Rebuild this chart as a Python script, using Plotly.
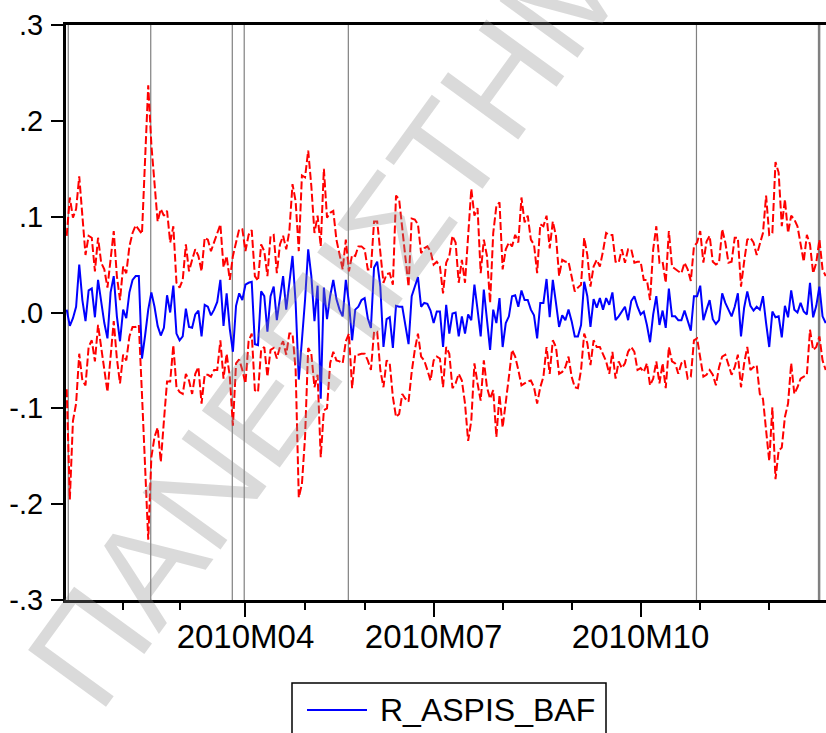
import plotly.graph_objects as go

# ---------------- data ----------------
series_name = "R_ASPIS_BAF"

blue = [
    0.003, -0.014, -0.006, 0.006, 0.050, 0.013, -0.009, 0.023, 0.025, -0.005,
    0.034, 0.011, -0.011, -0.027, 0.021, 0.038, -0.004, -0.030, 0.003, -0.006,
    0.021, 0.034, 0.038, 0.038, -0.048, -0.024, 0.003, 0.021, 0.006, -0.014,
    -0.024, -0.016, 0.018, 0.000, 0.028, -0.022, -0.029, -0.025, 0.004, -0.015,
    -0.016, -0.002, 0.002, -0.025, 0.008, 0.006, -0.003, 0.003, 0.011, 0.034,
    -0.014, 0.020, -0.017, -0.041, 0.007, 0.020, 0.013, 0.029, 0.031, 0.032,
    -0.033, -0.034, 0.022, 0.017, -0.020, 0.017, 0.027, -0.008, 0.017, 0.038,
    0.003, 0.031, 0.059, 0.010, -0.070, -0.029, 0.013, 0.066, 0.038, -0.009,
    0.028, -0.090, 0.026, -0.007, 0.017, 0.034, 0.014, 0.003, -0.004, 0.034,
    0.010, -0.029, 0.003, 0.006, 0.013, 0.015, -0.006, -0.016, 0.047, 0.053,
    0.027, -0.036, -0.007, -0.005, -0.037, 0.007, 0.006, 0.006, -0.015, -0.033,
    0.017, 0.027, 0.037, 0.006, 0.010, 0.009, 0.002, -0.011, 0.001, 0.001,
    -0.036, 0.008, -0.022, -0.001, 0.000, -0.025, -0.004, -0.022, -0.002, -0.008,
    0.029, 0.003, -0.025, 0.024, -0.011, -0.039, 0.003, -0.011, 0.015, -0.036,
    -0.011, -0.004, 0.017, 0.018, 0.006, 0.023, 0.013, 0.013, 0.003, -0.003,
    -0.027, 0.010, 0.010, 0.035, -0.005, 0.034, 0.010, -0.015, -0.003, -0.008,
    0.003, -0.009, -0.025, -0.025, -0.013, 0.032, 0.017, -0.015, 0.014, 0.005,
    0.015, 0.003, 0.015, 0.008, 0.021, -0.008, -0.004, 0.001, 0.006, -0.008,
    0.012, 0.017, 0.006, -0.002, 0.001, -0.013, -0.031, -0.002, 0.017, -0.013,
    0.002, -0.016, 0.025, -0.004, -0.004, -0.008, -0.008, 0.002, -0.010, -0.019,
    0.017, 0.017, 0.028, -0.008, 0.003, 0.013, -0.007, -0.012, -0.008, 0.020,
    0.010, 0.003, -0.004, 0.006, 0.020, -0.025, 0.005, 0.022, 0.007, 0.002,
    0.006, 0.003, 0.017, -0.011, -0.036, 0.001, -0.005, -0.004, -0.026, 0.007,
    -0.005, 0.023, 0.003, 0.000, 0.010, 0.001, -0.002, 0.031, -0.005, 0.007,
    0.027, -0.004, -0.011,
]

upper = [
    0.080, 0.120, 0.099, 0.108, 0.142, 0.104, 0.060, 0.080, 0.078, 0.043,
    0.078, 0.052, 0.045, 0.026, 0.055, 0.085, 0.038, 0.013, 0.048, 0.041,
    0.069, 0.083, 0.091, 0.087, 0.082, 0.160, 0.237, 0.175, 0.136, 0.095,
    0.108, 0.101, 0.106, 0.073, 0.090, 0.031, 0.026, 0.034, 0.071, 0.043,
    0.055, 0.066, 0.059, 0.043, 0.078, 0.076, 0.064, 0.073, 0.081, 0.092,
    0.047, 0.059, 0.034, 0.059, 0.073, 0.087, 0.087, 0.064, 0.081, 0.086,
    0.038, 0.033, 0.071, 0.064, 0.038, 0.080, 0.081, 0.041, 0.071, 0.080,
    0.066, 0.085, 0.134, 0.116, 0.064, 0.143, 0.141, 0.169, 0.132, 0.083,
    0.101, 0.069, 0.150, 0.099, 0.104, 0.106, 0.076, 0.059, 0.045, 0.076,
    0.043, 0.060, 0.059, 0.069, 0.069, 0.066, 0.045, 0.045, 0.095, 0.095,
    0.059, 0.031, 0.040, 0.041, 0.029, 0.122, 0.118, 0.087, 0.060, 0.027,
    0.098, 0.097, 0.092, 0.062, 0.067, 0.069, 0.064, 0.050, 0.053, 0.048,
    0.020, 0.052, 0.059, 0.080, 0.073, 0.031, 0.055, 0.031, 0.080, 0.129,
    0.101, 0.109, 0.041, 0.076, 0.059, 0.010, 0.083, 0.111, 0.115, 0.045,
    0.066, 0.073, 0.069, 0.081, 0.073, 0.120, 0.094, 0.101, 0.076, 0.071,
    0.041, 0.092, 0.090, 0.101, 0.067, 0.095, 0.080, 0.038, 0.055, 0.053,
    0.053, 0.038, 0.022, 0.026, 0.029, 0.078, 0.060, 0.027, 0.048, 0.055,
    0.048, 0.064, 0.083, 0.081, 0.081, 0.053, 0.052, 0.066, 0.052, 0.066,
    0.066, 0.052, 0.053, 0.053, 0.034, 0.034, 0.013, 0.066, 0.090, 0.052,
    0.053, 0.031, 0.085, 0.048, 0.045, 0.043, 0.041, 0.052, 0.045, 0.033,
    0.069, 0.073, 0.085, 0.052, 0.074, 0.080, 0.053, 0.050, 0.052, 0.087,
    0.073, 0.052, 0.053, 0.078, 0.078, 0.027, 0.053, 0.076, 0.078, 0.073,
    0.060, 0.071, 0.083, 0.122, 0.081, 0.083, 0.157, 0.146, 0.090, 0.118,
    0.083, 0.101, 0.097, 0.090, 0.073, 0.053, 0.081, 0.071, 0.041, 0.052,
    0.076, 0.045, 0.038,
]

lower = [
    -0.080, -0.195, -0.113, -0.095, -0.043, -0.071, -0.076, -0.036, -0.029, -0.051,
    -0.013, -0.037, -0.060, -0.083, -0.046, -0.009, -0.048, -0.074, -0.044, -0.050,
    -0.025, -0.015, -0.015, -0.013, -0.085, -0.165, -0.237, -0.151, -0.130, -0.120,
    -0.156, -0.113, -0.072, -0.072, -0.034, -0.078, -0.083, -0.085, -0.064, -0.071,
    -0.085, -0.064, -0.057, -0.095, -0.065, -0.065, -0.067, -0.060, -0.060, -0.029,
    -0.069, -0.043, -0.067, -0.118, -0.053, -0.049, -0.060, -0.074, -0.030, -0.022,
    -0.081, -0.083, -0.039, -0.036, -0.067, -0.039, -0.037, -0.048, -0.036, -0.030,
    -0.044, -0.022, -0.022, -0.060, -0.193, -0.179, -0.130, -0.037, -0.043, -0.078,
    -0.065, -0.151, -0.102, -0.100, -0.053, -0.041, -0.050, -0.051, -0.053, -0.030,
    -0.022, -0.079, -0.044, -0.044, -0.043, -0.043, -0.050, -0.060, -0.020, -0.020,
    -0.060, -0.078, -0.050, -0.053, -0.088, -0.109, -0.106, -0.085, -0.090, -0.093,
    -0.062, -0.039, -0.022, -0.046, -0.050, -0.060, -0.071, -0.050, -0.046, -0.048,
    -0.078, -0.036, -0.043, -0.079, -0.074, -0.064, -0.071, -0.095, -0.134, -0.113,
    -0.053, -0.074, -0.092, -0.050, -0.078, -0.090, -0.081, -0.130, -0.086, -0.120,
    -0.095, -0.067, -0.039, -0.046, -0.060, -0.076, -0.074, -0.072, -0.071, -0.078,
    -0.095, -0.078, -0.067, -0.036, -0.064, -0.029, -0.036, -0.064, -0.062, -0.057,
    -0.046, -0.067, -0.078, -0.079, -0.060, -0.022, -0.032, -0.055, -0.029, -0.036,
    -0.036, -0.043, -0.051, -0.064, -0.041, -0.069, -0.051, -0.058, -0.053, -0.041,
    -0.036, -0.041, -0.060, -0.058, -0.062, -0.053, -0.076, -0.069, -0.051, -0.074,
    -0.053, -0.079, -0.036, -0.051, -0.053, -0.064, -0.053, -0.050, -0.069, -0.067,
    -0.029, -0.027, -0.046, -0.067, -0.065, -0.060, -0.065, -0.076, -0.057, -0.046,
    -0.044, -0.055, -0.065, -0.057, -0.044, -0.078, -0.053, -0.036, -0.060, -0.057,
    -0.055, -0.085, -0.090, -0.123, -0.155, -0.099, -0.174, -0.144, -0.141, -0.109,
    -0.095, -0.053, -0.085, -0.078, -0.069, -0.067, -0.065, -0.018, -0.039, -0.036,
    -0.025, -0.050, -0.060,
]

# observation index of the first trading day of each month (Feb .. Dec 2010)
month_start_obs = [18, 36, 57, 76, 95, 117, 139, 161, 183, 202, 224]
month_labels = ["2010M02", "2010M03", "2010M04", "2010M05", "2010M06", "2010M07",
                "2010M08", "2010M09", "2010M10", "2010M11", "2010M12"]
labelled_months = ["2010M04", "2010M07", "2010M10"]

# vertical marker lines (observation positions) and their widths
break_obs = [0.5, 26.8, 52.8, 56.6, 89.8, 200.8, 239.9]
break_width = [1.2, 1.2, 1.2, 1.2, 1.2, 1.2, 2.5]

y_ticks = [-0.3, -0.2, -0.1, 0.0, 0.1, 0.2, 0.3]
y_ticktext = ["-.3", "-.2", "-.1", ".0", ".1", ".2", ".3"]

watermark = "ΠΑΝΕΠΙΣΤΗΜΙΟ"

# ---------------- figure ----------------
W, H = 826, 733
ML, MR, MT, MB = 66, 0, 25, 133
PW, PH = W - ML - MR, H - MT - MB


def px_x(px):
    return (px - ML) / PW


def px_y(py):
    return (H - MB - py) / PH


obs = list(range(len(blue)))
major_vals = [o for o, m in zip(month_start_obs, month_labels) if m in labelled_months]
major_text = [m for m in month_labels if m in labelled_months]
minor_vals = [o for o, m in zip(month_start_obs, month_labels) if m not in labelled_months]

FONT = "Liberation Sans, Arial, sans-serif"
RED = "#FF0000"
BLUE = "#0000FF"

fig = go.Figure()
fig.add_trace(go.Scatter(x=obs, y=upper, mode="lines", showlegend=False, hoverinfo="skip",
                         line=dict(color=RED, width=2, dash="8px,3px")))
fig.add_trace(go.Scatter(x=obs, y=lower, mode="lines", showlegend=False, hoverinfo="skip",
                         line=dict(color=RED, width=2, dash="8px,3px")))
fig.add_trace(go.Scatter(x=obs, y=blue, mode="lines", name=series_name, showlegend=False,
                         line=dict(color=BLUE, width=2)))

for b, w in zip(break_obs, break_width):
    fig.add_shape(type="line", xref="x", yref="paper", x0=b, x1=b, y0=0, y1=1,
                  line=dict(color="#808080", width=w), layer="below")

# watermark (as in the scanned source)
fig.add_annotation(text=watermark, xref="paper", yref="paper", x=px_x(373), y=px_y(256),
                   xanchor="center", yanchor="middle", showarrow=False, textangle=-54,
                   font=dict(family=FONT, size=140, color="rgba(140,140,140,0.32)"))

# legend box drawn EViews-style (longer sample line)
fig.add_shape(type="rect", xref="paper", yref="paper",
              x0=px_x(292), x1=px_x(606), y0=px_y(683), y1=px_y(748),
              line=dict(color="black", width=1.5), fillcolor="white", layer="above")
fig.add_shape(type="line", xref="paper", yref="paper",
              x0=px_x(307), x1=px_x(367), y0=px_y(710), y1=px_y(710),
              line=dict(color=BLUE, width=2))
fig.add_annotation(text=series_name, xref="paper", yref="paper", x=px_x(378), y=px_y(710),
                   xanchor="left", yanchor="middle", showarrow=False,
                   font=dict(family=FONT, size=32, color="black"))

fig.update_layout(
    width=W, height=H,
    margin=dict(l=ML, r=MR, t=MT, b=MB),
    paper_bgcolor="white", plot_bgcolor="white",
    font=dict(family=FONT, color="black"),
    showlegend=False,
)
fig.update_xaxes(
    range=[-0.22, 242.1], showgrid=False, zeroline=False,
    showline=True, linewidth=3, linecolor="black", mirror=True,
    tickmode="array", tickvals=major_vals, ticktext=major_text,
    ticks="outside", ticklen=14, tickwidth=2, tickcolor="black",
    tickfont=dict(size=33, family=FONT), ticklabelstandoff=-9,
    minor=dict(tickmode="array", tickvals=minor_vals, ticks="outside",
               ticklen=7, tickwidth=2, tickcolor="black", showgrid=False),
)
fig.update_yaxes(
    range=[-0.3, 0.3], showgrid=False, zeroline=False,
    showline=True, linewidth=3, linecolor="black", mirror=False,
    tickmode="array", tickvals=y_ticks, ticktext=y_ticktext,
    ticks="outside", ticklen=12, tickwidth=2, tickcolor="black",
    tickfont=dict(size=29, family=FONT), ticklabelstandoff=2,
)

fig.write_html("out.html")
